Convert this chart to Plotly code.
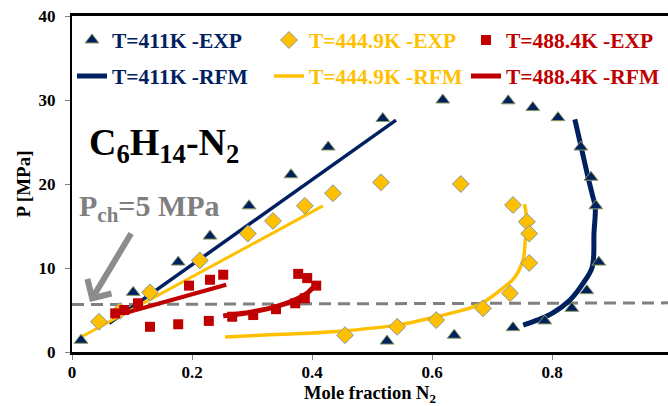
import plotly.graph_objects as go

# ---------------- data ----------------
x411_exp = [0.015, 0.102, 0.177, 0.23, 0.295, 0.365, 0.427, 0.518, 0.618, 0.727, 0.768, 0.81,
            0.848, 0.865, 0.873, 0.878, 0.858, 0.833, 0.788, 0.735, 0.637, 0.525]
p411_exp = [1.4, 7.1, 10.7, 13.8, 17.4, 21.1, 24.4, 27.8, 30.0, 29.9, 29.1, 27.9,
            24.4, 20.8, 17.4, 10.7, 7.3, 5.2, 3.7, 2.9, 2.0, 1.3]

x444_exp = [0.045, 0.08, 0.13, 0.213, 0.293, 0.335, 0.388, 0.435, 0.515, 0.648, 0.735, 0.758,
            0.762, 0.762, 0.73, 0.685, 0.607, 0.542, 0.455]
p444_exp = [3.6, 4.9, 7.1, 10.9, 14.1, 15.6, 17.4, 18.9, 20.2, 20.0, 17.5, 15.5,
            14.1, 10.6, 7.0, 5.2, 3.8, 3.0, 2.0]

x488_exp = [0.072, 0.087, 0.11, 0.13, 0.177, 0.195, 0.228, 0.23, 0.252, 0.267, 0.302, 0.34,
            0.372, 0.388, 0.377, 0.392, 0.407]
p488_exp = [4.6, 5.0, 5.8, 3.0, 3.3, 7.9, 3.7, 8.6, 9.2, 4.2, 4.4, 5.1,
            5.8, 6.4, 9.3, 8.8, 7.9]

# RFM model: bubble (liquid) branch and dew branch
x411_liq = [0.062, 0.54]
p411_liq = [3.4, 27.6]
x411_dew = [0.838, 0.847, 0.86, 0.868, 0.872, 0.87, 0.867, 0.852, 0.83, 0.80, 0.775, 0.752]
p411_dew = [27.7, 24.9, 20.8, 18.5, 17.3, 14.2, 10.1, 8.2, 6.2, 4.6, 3.8, 3.2]

x444_liq = [0.013, 0.418]
p444_liq = [1.7, 17.4]
x444_dew = [0.255, 0.35, 0.44, 0.542, 0.607, 0.642, 0.68, 0.718, 0.738, 0.752, 0.755, 0.758, 0.754]
p444_dew = [1.8, 2.1, 2.45, 3.2, 4.2, 4.8, 5.7, 7.6, 8.9, 11.0, 13.0, 15.7, 17.6]

x488_liq = [0.066, 0.257]
p488_liq = [4.2, 8.0]
x488_dew = [0.252, 0.302, 0.34, 0.368, 0.392, 0.402, 0.41]
p488_dew = [4.3, 4.8, 5.4, 6.1, 7.0, 7.7, 8.2]

x_pch = [0.0, 1.0]
p_pch = [5.65, 5.85]

labels_exp = ["T=411K -EXP", "T=444.9K -EXP", "T=488.4K -EXP"]
labels_rfm = ["T=411K -RFM", "T=444.9K -RFM", "T=488.4K -RFM"]
x_ticks = [0, 0.2, 0.4, 0.6, 0.8, 1.0]
y_ticks = [0, 10, 20, 30, 40]

NAVY = "#002060"
GOLD = "#FFC000"
RED = "#C00000"
GRAY = "#808080"
FONT = "Liberation Serif"

def lab(t, c):
    return f'<span style="color:{c}">{t}</span>'

fig = go.Figure()

# dashed reference line
fig.add_trace(go.Scatter(x=x_pch, y=p_pch, mode="lines", showlegend=False,
                         line=dict(color=GRAY, width=3, dash="12px,7px"), hoverinfo="skip"))

# RFM lines
fig.add_trace(go.Scatter(x=x411_liq, y=p411_liq, mode="lines", showlegend=False,
                         line=dict(color=NAVY, width=3.5)))
fig.add_trace(go.Scatter(x=x444_liq, y=p444_liq, mode="lines", showlegend=False,
                         line=dict(color=GOLD, width=3)))
fig.add_trace(go.Scatter(x=x488_liq, y=p488_liq, mode="lines", showlegend=False,
                         line=dict(color=RED, width=4)))
fig.add_trace(go.Scatter(x=x411_dew, y=p411_dew, mode="lines", name=lab(labels_rfm[0], NAVY),
                         legend="legend2", line=dict(color=NAVY, width=5, shape="spline")))
fig.add_trace(go.Scatter(x=x444_dew, y=p444_dew, mode="lines", name=lab(labels_rfm[1], GOLD),
                         legend="legend2", line=dict(color=GOLD, width=3.5, shape="spline")))
fig.add_trace(go.Scatter(x=x488_dew, y=p488_dew, mode="lines", name=lab(labels_rfm[2], RED),
                         legend="legend2", line=dict(color=RED, width=5, shape="spline")))

# EXP markers
fig.add_trace(go.Scatter(x=x411_exp, y=p411_exp, mode="markers", name=lab(labels_exp[0], NAVY),
                         legend="legend",
                         marker=dict(symbol="triangle-up", size=12, color=NAVY,
                                     line=dict(color="#8A9A5B", width=1))))
fig.add_trace(go.Scatter(x=x444_exp, y=p444_exp, mode="markers", name=lab(labels_exp[1], GOLD),
                         legend="legend",
                         marker=dict(symbol="diamond", size=13, color=GOLD,
                                     line=dict(color="#8497B0", width=1))))
fig.add_trace(go.Scatter(x=x488_exp, y=p488_exp, mode="markers", name=lab(labels_exp[2], RED),
                         legend="legend",
                         marker=dict(symbol="square", size=10, color=RED)))

legend_common = dict(orientation="h", xref="paper", yref="paper",
                     xanchor="left", yanchor="middle", bgcolor="rgba(0,0,0,0)",
                     entrywidthmode="pixels", entrywidth=152, itemwidth=30,
                     font=dict(family=FONT, size=21.5, weight="bold"), traceorder="normal")

fig.update_layout(
    width=668, height=406,
    margin=dict(l=72, r=0, t=16, b=54, autoexpand=False),
    paper_bgcolor="white", plot_bgcolor="white",
    font=dict(family=FONT, size=17, color="black", weight="bold"),
    legend=dict(x=0.0, y=(352 - 40) / 336, **legend_common),
    legend2=dict(x=0.0, y=(352 - 76) / 336, **legend_common),
    xaxis=dict(range=[0, 0.9933], tickvals=x_ticks, showgrid=False, zeroline=False,
               showline=True, linecolor="black", linewidth=3, mirror=True,
               ticks="outside", ticklen=5, tickcolor=GRAY, tickwidth=1,
               ticklabelstandoff=-2,
               tickfont=dict(family=FONT, size=17, weight="bold"),
               title=dict(text="Mole fraction N<sub>2</sub>", standoff=16,
                          font=dict(family=FONT, size=18.5, weight="bold"))),
    yaxis=dict(range=[0, 40], tickvals=y_ticks, showgrid=False, zeroline=False,
               showline=True, linecolor="black", linewidth=2, mirror=False,
               ticks="outside", ticklen=5, tickcolor=GRAY, tickwidth=1,
               ticklabelstandoff=6,
               tickfont=dict(family=FONT, size=17, weight="bold"),
               title=dict(text="P [MPa]", standoff=3,
                          font=dict(family=FONT, size=19, weight="bold"))),
    annotations=[
        dict(text="C<sub>6</sub>H<sub>14</sub>-N<sub>2</sub>", xref="paper", yref="y",
             x=(87 - 72) / 596, y=24.7, xanchor="left", yanchor="middle", showarrow=False,
             font=dict(family=FONT, size=38, color="black", weight="bold")),
        dict(text="P<sub>ch</sub>=5 MPa", xref="paper", yref="y",
             x=(77 - 72) / 596, y=17.2, xanchor="left", yanchor="middle", showarrow=False,
             font=dict(family=FONT, size=30, color="#7F7F7F", weight="bold")),
        dict(text="", x=0.03, y=5.95, xref="x", yref="y", showarrow=True,
             ax=42, ay=-70, arrowhead=4, arrowsize=0.9, arrowwidth=6,
             arrowcolor="#8C8C8C"),
    ],
)

fig.write_html("out.html", config={"displayModeBar": False},
               post_script="document.body.style.margin='0';")
